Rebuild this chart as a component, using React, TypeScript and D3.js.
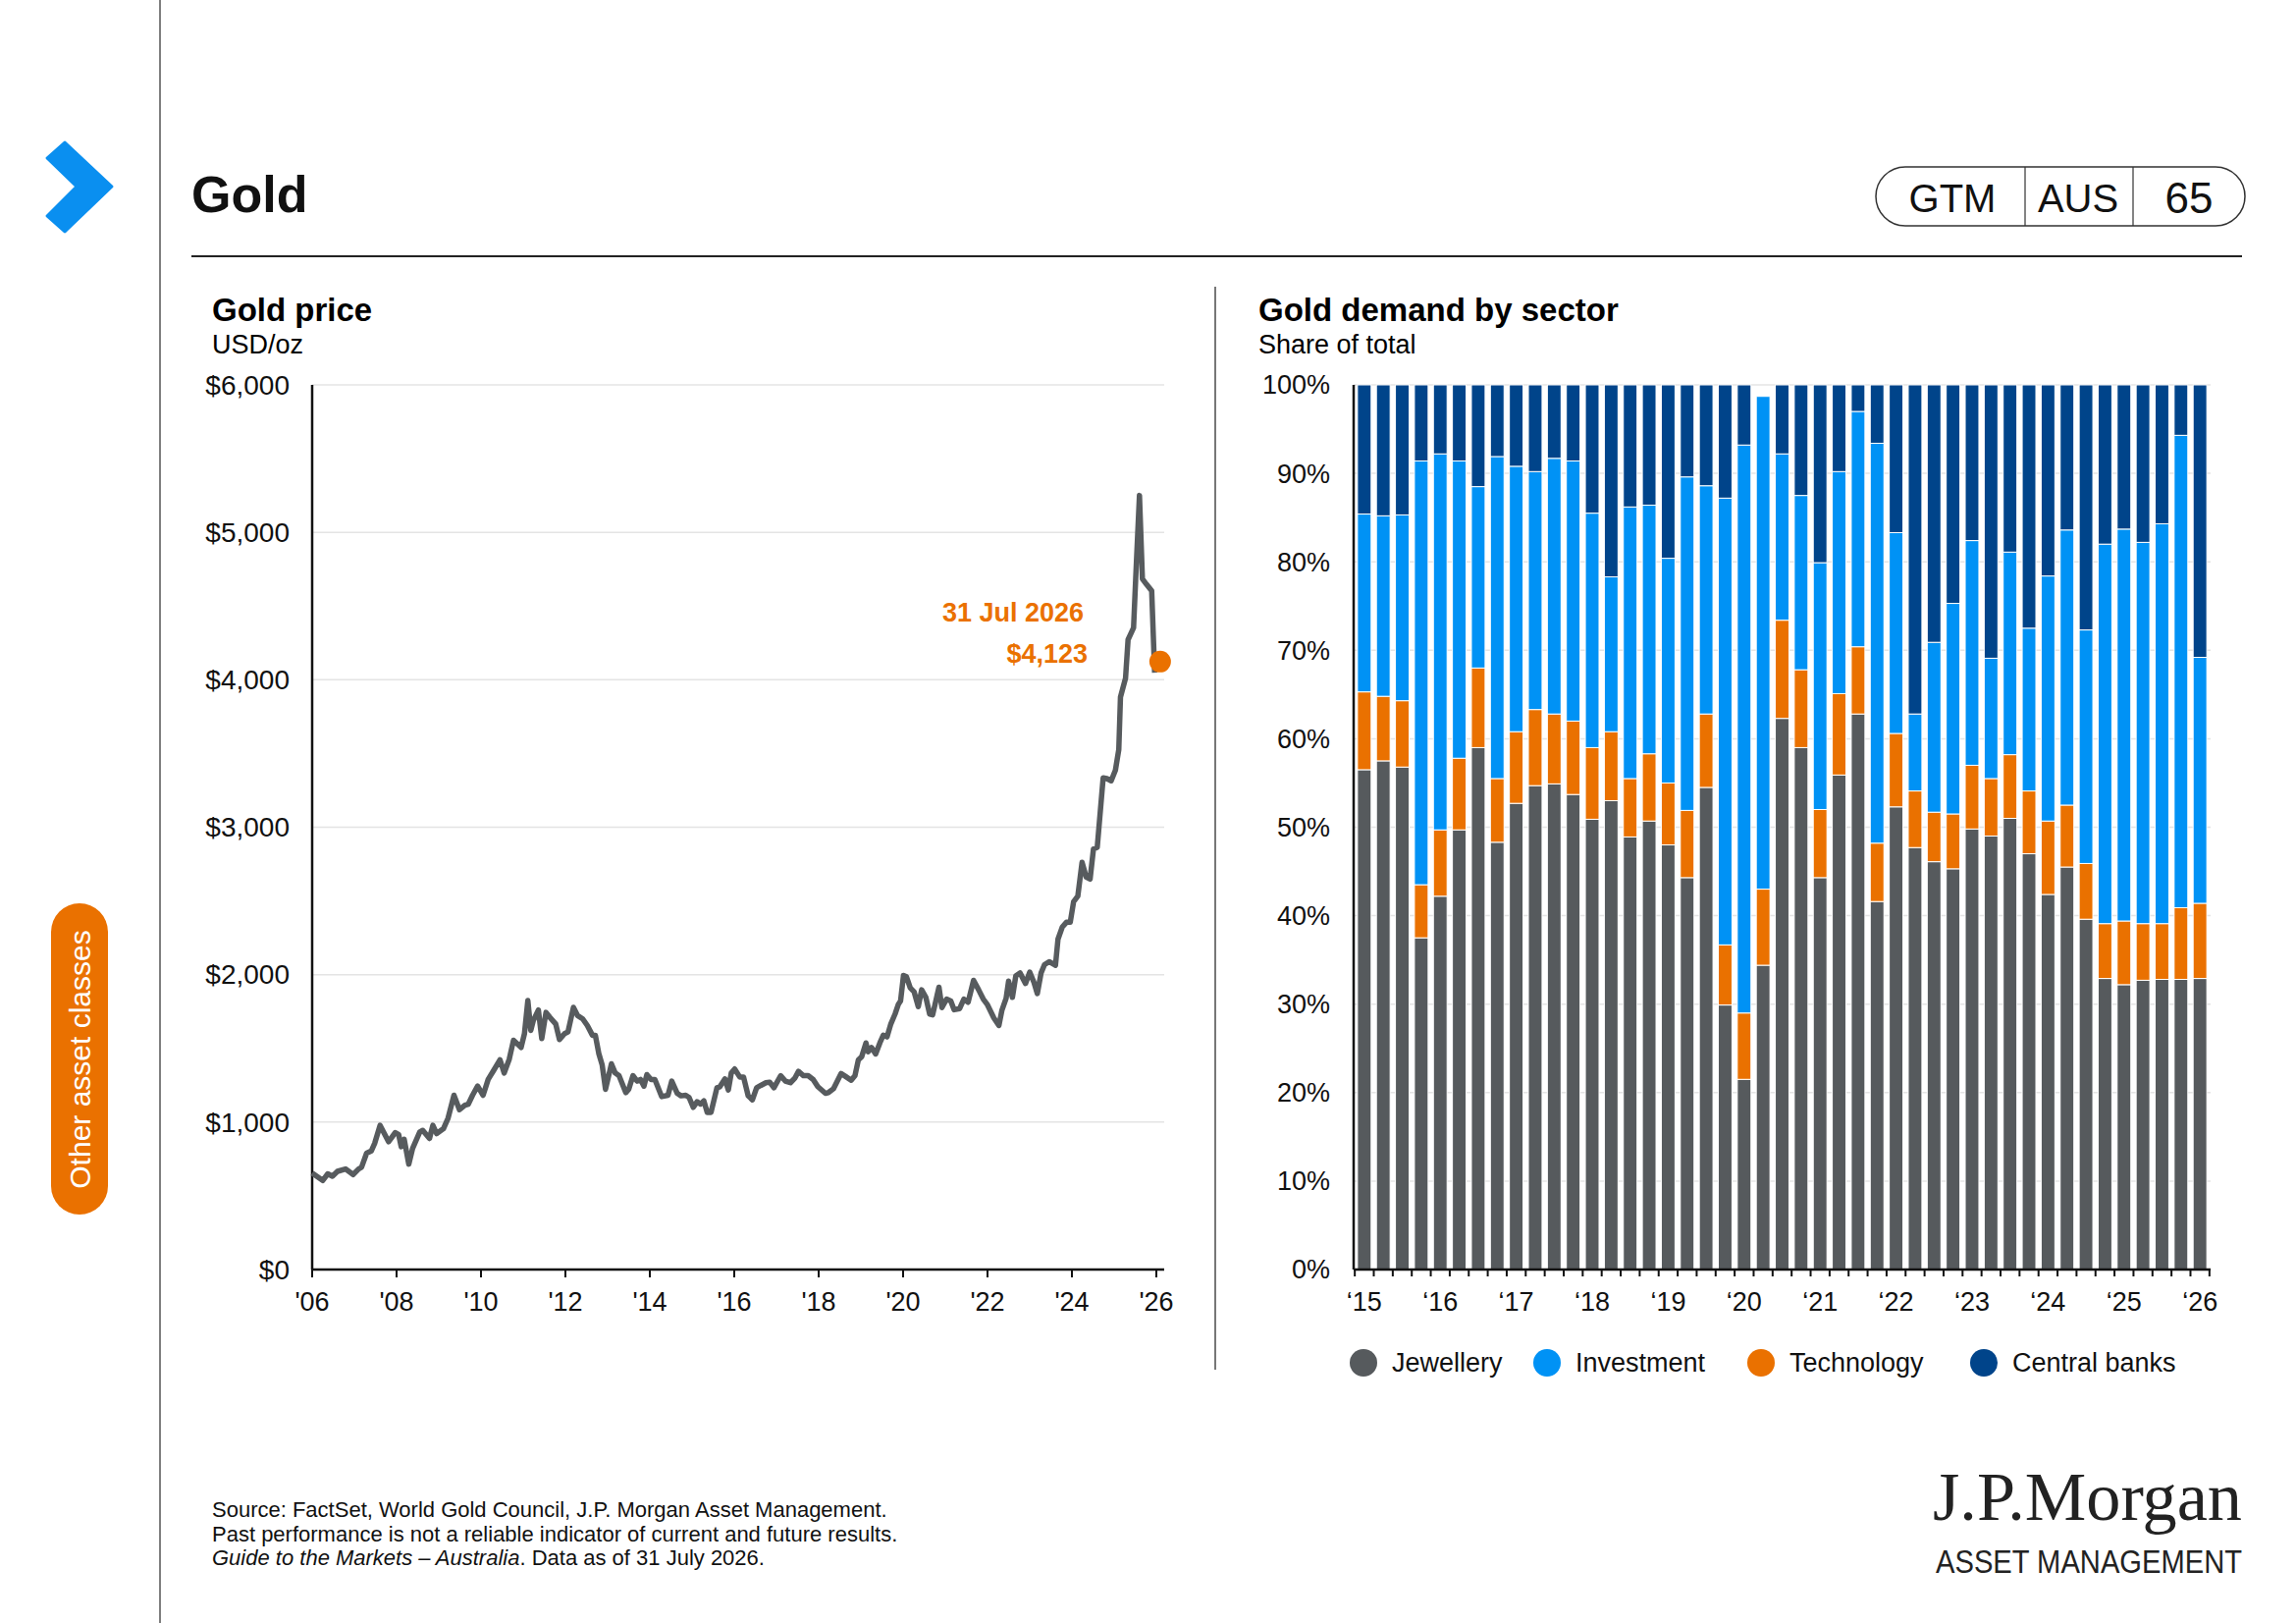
import * as d3 from 'd3';

const FONT = "'Liberation Sans', Arial, Helvetica, sans-serif";
const ORANGE = '#ea7100';
const LINE_GREY = '#575b5e';

// Gold price, USD/oz (time as fractional years)
const goldYears = [
    2006.0, 2006.25, 2006.37, 2006.48, 2006.6, 2006.79, 2006.97, 2007.1, 2007.17, 2007.29,
    2007.4, 2007.48, 2007.61, 2007.81, 2007.97, 2008.05, 2008.11, 2008.18, 2008.29, 2008.38,
    2008.55, 2008.62, 2008.78, 2008.86, 2008.95, 2009.11, 2009.22, 2009.36, 2009.49, 2009.62,
    2009.7, 2009.8, 2009.92, 2010.05, 2010.17, 2010.31, 2010.45, 2010.55, 2010.67, 2010.77,
    2010.95, 2011.03, 2011.11, 2011.18, 2011.24, 2011.36, 2011.44, 2011.54, 2011.63, 2011.77,
    2011.86, 2011.98, 2012.06, 2012.19, 2012.29, 2012.41, 2012.52, 2012.64, 2012.71, 2012.79,
    2012.87, 2012.95, 2013.09, 2013.18, 2013.27, 2013.43, 2013.5, 2013.6, 2013.7, 2013.78,
    2013.86, 2013.93, 2014.03, 2014.12, 2014.28, 2014.43, 2014.52, 2014.65, 2014.74, 2014.85,
    2014.93, 2015.03, 2015.12, 2015.2, 2015.28, 2015.36, 2015.45, 2015.59, 2015.66, 2015.78,
    2015.86, 2015.93, 2016.01, 2016.13, 2016.22, 2016.33, 2016.43, 2016.53, 2016.63, 2016.75,
    2016.84, 2016.94, 2017.1, 2017.21, 2017.33, 2017.44, 2017.52, 2017.64, 2017.75, 2017.87,
    2017.98, 2018.16, 2018.23, 2018.35, 2018.53, 2018.63, 2018.77, 2018.86, 2018.94, 2019.02,
    2019.12, 2019.17, 2019.25, 2019.35, 2019.45, 2019.53, 2019.62, 2019.71, 2019.81, 2019.89,
    2019.94, 2020.01, 2020.08, 2020.17, 2020.26, 2020.36, 2020.44, 2020.54, 2020.63, 2020.7,
    2020.85, 2020.92, 2021.03, 2021.13, 2021.21, 2021.34, 2021.44, 2021.54, 2021.67, 2021.79,
    2021.9, 2022.0, 2022.15, 2022.27, 2022.34, 2022.44, 2022.5, 2022.59, 2022.67, 2022.77,
    2022.9, 2023.0, 2023.1, 2023.18, 2023.27, 2023.35, 2023.46, 2023.61, 2023.67, 2023.77,
    2023.87, 2023.96, 2024.04, 2024.14, 2024.24, 2024.34, 2024.43, 2024.51, 2024.6, 2024.74,
    2024.83, 2024.93, 2025.03, 2025.11, 2025.15, 2025.27, 2025.33, 2025.46, 2025.52, 2025.6,
    2025.67, 2025.77, 2025.89, 2025.96,
];
const goldPrices = [
    655, 604, 649, 633, 666, 682, 644, 682, 693, 789,
    804, 855, 978, 867, 929, 915, 833, 884, 715, 822,
    933, 944, 889, 978, 922, 955, 1027, 1182, 1084, 1115,
    1122, 1182, 1244, 1182, 1289, 1355, 1422, 1333, 1427, 1555,
    1506, 1600, 1825, 1622, 1689, 1760, 1566, 1744, 1711, 1666,
    1560, 1600, 1611, 1778, 1722, 1700, 1655, 1589, 1589, 1466,
    1389, 1222, 1395, 1333, 1315, 1200, 1222, 1315, 1278, 1289,
    1244, 1322, 1289, 1289, 1173, 1182, 1278, 1195, 1178, 1182,
    1167, 1100, 1138, 1122, 1144, 1066, 1066, 1233, 1240, 1293,
    1218, 1333, 1360, 1306, 1306, 1178, 1151, 1233, 1249, 1267,
    1271, 1233, 1315, 1278, 1267, 1300, 1344, 1315, 1315, 1289,
    1240, 1195, 1200, 1226, 1329, 1311, 1284, 1315, 1422, 1444,
    1537, 1477, 1506, 1462, 1537, 1589, 1578, 1666, 1733, 1800,
    1821, 1995, 1986, 1910, 1884, 1783, 1897, 1846, 1732, 1727,
    1915, 1777, 1834, 1821, 1762, 1770, 1834, 1813, 1961, 1897,
    1834, 1795, 1706, 1655, 1757, 1839, 1956, 1846, 1991, 2012,
    1940, 2017, 1948, 1872, 2012, 2068, 2088, 2063, 2241, 2322,
    2355, 2355, 2495, 2533, 2762, 2661, 2648, 2852, 2864, 3335,
    3330, 3315, 3386, 3526, 3882, 4010, 4272, 4353, 4748, 5250,
    4684, 4646, 4603, 4048,
];
const latestYear = 2026.09;
const latestPrice = 4123;
const latestDate = '31 Jul 2026';

const priceTicks = [0, 1000, 2000, 3000, 4000, 5000, 6000];
const yearTicks = [2006, 2008, 2010, 2012, 2014, 2016, 2018, 2020, 2022, 2024, 2026];

// Gold demand by sector, share of total (%)
const quarters = [
    '1Q15', '2Q15', '3Q15', '4Q15', '1Q16', '2Q16', '3Q16', '4Q16', '1Q17', '2Q17', '3Q17', '4Q17',
    '1Q18', '2Q18', '3Q18', '4Q18', '1Q19', '2Q19', '3Q19', '4Q19', '1Q20', '2Q20', '3Q20', '4Q20',
    '1Q21', '2Q21', '3Q21', '4Q21', '1Q22', '2Q22', '3Q22', '4Q22', '1Q23', '2Q23', '3Q23', '4Q23',
    '1Q24', '2Q24', '3Q24', '4Q24', '1Q25', '2Q25', '3Q25', '4Q25', '1Q26',
];
const jewellery = [
    56.5, 57.5, 56.8, 37.5, 42.2, 49.7, 59.0, 48.3, 52.7, 54.7, 54.9, 53.7,
    50.9, 53.0, 48.9, 50.7, 48.0, 44.3, 54.5, 29.9, 21.5, 34.4, 62.3, 59.0,
    44.3, 55.9, 62.8, 41.6, 52.3, 47.7, 46.1, 45.3, 49.8, 49.0, 51.0, 47.0,
    42.4, 45.5, 39.6, 32.9, 32.2, 32.7, 32.8, 32.8, 32.9,
];
const technology = [
    8.8, 7.3, 7.5, 6.0, 7.5, 8.1, 9.0, 7.2, 8.1, 8.6, 7.9, 8.3,
    8.1, 7.8, 6.6, 7.6, 7.0, 7.6, 8.3, 6.8, 7.5, 8.6, 11.1, 8.8,
    7.7, 9.2, 7.6, 6.6, 8.3, 6.4, 5.6, 6.2, 7.2, 6.5, 7.2, 7.1,
    8.3, 7.0, 6.3, 6.2, 7.2, 6.4, 6.3, 8.1, 8.5,
];
const investment = [
    20.1, 20.4, 21.0, 47.9, 42.5, 33.6, 20.5, 36.4, 30.0, 26.9, 28.9, 29.4,
    26.5, 17.5, 30.7, 28.1, 25.4, 37.7, 25.8, 50.5, 64.2, 55.7, 18.8, 19.7,
    27.9, 25.1, 26.6, 45.2, 22.7, 8.7, 19.2, 23.8, 25.4, 13.6, 22.9, 18.4,
    27.7, 31.1, 26.4, 42.9, 44.3, 43.1, 45.2, 53.4, 27.8,
];
const centralBanks = [
    14.6, 14.8, 14.7, 8.6, 7.8, 8.6, 11.5, 8.1, 9.2, 9.8, 8.3, 8.6,
    14.5, 21.7, 13.8, 13.6, 19.6, 10.4, 11.4, 12.8, 6.8, 0.0, 7.8, 12.5,
    20.1, 9.8, 3.0, 6.6, 16.7, 37.2, 29.1, 24.7, 17.6, 30.9, 18.9, 27.5,
    21.6, 16.4, 27.7, 18.0, 16.3, 17.8, 15.7, 5.7, 30.8,
];
const barYearLabels = ['‘15', '‘16', '‘17', '‘18', '‘19', '‘20', '‘21', '‘22', '‘23', '‘24', '‘25', '‘26'];
const shareTicks = [0, 10, 20, 30, 40, 50, 60, 70, 80, 90, 100];

const sectors = [
    { key: 'Jewellery', values: jewellery, color: '#565a5d' },
    { key: 'Technology', values: technology, color: ORANGE },
    { key: 'Investment', values: investment, color: '#0092f5' },
    { key: 'Central banks', values: centralBanks, color: '#00448a' },
];
const legendOrder = ['Jewellery', 'Investment', 'Technology', 'Central banks'];

const GoldPrice = () => {
    const x = d3.scaleLinear().domain([2006, 2026]).range([318, 1178]);
    const y = d3.scaleLinear().domain([0, 6000]).range([1293, 392]);
    const xEnd = 1186;
    const points = goldYears.map((yr, i) => [yr, goldPrices[i]]);
    const line = d3.line<number[]>()
        .x((d) => x(d[0]))
        .y((d) => y(d[1]))
        .curve(d3.curveLinear);

    return (
        <g>
            <text x={216} y={327} fontSize={33} fontWeight="bold">Gold price</text>
            <text x={216} y={360} fontSize={27}>USD/oz</text>

            {priceTicks.filter((t) => t > 0).map((t) => (
                <line key={t} x1={x(2006)} x2={xEnd} y1={y(t)} y2={y(t)} stroke="#e4e4e4" strokeWidth={1.5} />
            ))}
            {priceTicks.map((t) => (
                <text key={t} x={295} y={y(t)} dy="0.35em" fontSize={28} textAnchor="end" fill="#111">
                    {d3.format('$,')(t)}
                </text>
            ))}

            <line x1={x(2006)} x2={x(2006)} y1={392} y2={1293} stroke="#111" strokeWidth={2.5} />
            <line x1={x(2006)} x2={xEnd} y1={1293} y2={1293} stroke="#111" strokeWidth={2.5} />
            {yearTicks.map((t) => (
                <g key={t}>
                    <line x1={x(t)} x2={x(t)} y1={1293} y2={1301} stroke="#111" strokeWidth={2} />
                    <text x={x(t)} y={1335} fontSize={27} textAnchor="middle" fill="#111">
                        {`'${String(t).slice(2)}`}
                    </text>
                </g>
            ))}

            <path d={line(points) ?? ''} fill="none" stroke={LINE_GREY} strokeWidth={5.5} strokeLinejoin="round" />
            <circle cx={x(latestYear)} cy={y(latestPrice)} r={11} fill={ORANGE} />
            <text x={1104} y={633} fontSize={27} fontWeight="bold" fill={ORANGE} textAnchor="end">{latestDate}</text>
            <text x={1108} y={675} fontSize={27} fontWeight="bold" fill={ORANGE} textAnchor="end">
                {d3.format('$,')(latestPrice)}
            </text>
        </g>
    );
};

const GoldDemand = () => {
    const x = d3.scaleBand().domain(quarters).range([1379, 2252]).paddingInner(0.28).paddingOuter(0.2);
    const y = d3.scaleLinear().domain([0, 100]).range([1293, 392]);
    const rows = quarters.map((q, i) => {
        const row: Record<string, number | string> = { q };
        sectors.forEach((s) => { row[s.key] = s.values[i]; });
        return row;
    });
    const stack = d3.stack<any>().keys(sectors.map((s) => s.key));
    const series = stack(rows);
    const step = x.step();
    const gap = step - x.bandwidth();
    const firstEdge = (x(quarters[0]) ?? 0) - gap / 2;

    return (
        <g>
            <text x={1282} y={327} fontSize={33} fontWeight="bold">Gold demand by sector</text>
            <text x={1282} y={360} fontSize={27}>Share of total</text>

            {shareTicks.filter((t) => t > 0).map((t) => (
                <line key={t} x1={1379} x2={2252} y1={y(t)} y2={y(t)} stroke="#e4e4e4" strokeWidth={1.5} />
            ))}
            {shareTicks.map((t) => (
                <text key={t} x={1355} y={y(t)} dy="0.35em" fontSize={27} textAnchor="end" fill="#111">{`${t}%`}</text>
            ))}

            {series.map((s, si) => (
                <g key={s.key} fill={sectors[si].color}>
                    {s.map((d, i) => (d[1] - d[0] > 0 ? (
                        <rect
                            key={quarters[i]}
                            x={x(quarters[i])}
                            width={x.bandwidth()}
                            y={y(d[1])}
                            height={y(d[0]) - y(d[1])}
                            stroke="#fff"
                            strokeWidth={1}
                        />
                    ) : null))}
                </g>
            ))}

            <line x1={1379} x2={1379} y1={392} y2={1293} stroke="#111" strokeWidth={2.5} />
            <line x1={1379} x2={2252} y1={1293} y2={1293} stroke="#111" strokeWidth={2.5} />
            {d3.range(quarters.length + 1).map((i) => (
                <line key={i} x1={firstEdge + i * step} x2={firstEdge + i * step} y1={1293} y2={1300} stroke="#111" strokeWidth={2} />
            ))}
            {barYearLabels.map((label, i) => {
                const q = quarters[i * 4];
                return (
                    <text key={label} x={(x(q) ?? 0) + x.bandwidth() / 2} y={1335} fontSize={27} textAnchor="middle" fill="#111">
                        {label}
                    </text>
                );
            })}

            {legendOrder.map((key, i) => {
                const s = sectors.find((d) => d.key === key)!;
                const cx = [1389, 1576, 1794, 2021][i];
                return (
                    <g key={key}>
                        <circle cx={cx} cy={1388} r={14} fill={s.color} />
                        <text x={cx + 29} y={1388} dy="0.35em" fontSize={27} fill="#111">{key}</text>
                    </g>
                );
            })}
        </g>
    );
};

export default function App() {
    return (
        <div style={{ width: 2339, height: 1653, overflow: 'hidden' }}>
            <style>{'body{margin:0;background:#fff}'}</style>
            <svg width={2339} height={1653} viewBox="0 0 2339 1653" style={{ display: 'block', fontFamily: FONT }}>
                <rect width={2339} height={1653} fill="#fff" />

                {/* left rail */}
                <line x1={163} x2={163} y1={0} y2={1653} stroke="#555" strokeWidth={1.5} />
                <polygon
                    points="48,161 66,145 114,190 66,236 48,220 78,190"
                    fill="#0a8ff0"
                    stroke="#0a8ff0"
                    strokeWidth={3}
                    strokeLinejoin="round"
                />
                <rect x={52} y={920} width={58} height={317} rx={29} fill={ORANGE} />
                <text
                    transform="translate(81,1079) rotate(-90)"
                    textAnchor="middle"
                    dy="0.35em"
                    fontSize={30}
                    fill="#fff"
                >
                    Other asset classes
                </text>

                {/* header */}
                <text x={195} y={216} fontSize={52} fontWeight="bold" fill="#111">Gold</text>
                <rect x={1911} y={170} width={376} height={60} rx={30} fill="none" stroke="#333" strokeWidth={1.5} />
                <line x1={2063} x2={2063} y1={170} y2={230} stroke="#333" strokeWidth={1.2} />
                <line x1={2173} x2={2173} y1={170} y2={230} stroke="#333" strokeWidth={1.2} />
                <text x={1989} y={216} fontSize={40} textAnchor="middle" fill="#111">GTM</text>
                <text x={2117} y={216} fontSize={40} textAnchor="middle" fill="#111">AUS</text>
                <text x={2230} y={217} fontSize={44} textAnchor="middle" fill="#111">65</text>
                <line x1={195} x2={2284} y1={261} y2={261} stroke="#222" strokeWidth={2} />

                <GoldPrice />
                <line x1={1238} x2={1238} y1={292} y2={1395} stroke="#777" strokeWidth={2} />
                <GoldDemand />

                {/* footer */}
                <text x={216} y={1545} fontSize={22} fill="#111">
                    Source: FactSet, World Gold Council, J.P. Morgan Asset Management.
                </text>
                <text x={216} y={1570} fontSize={22} fill="#111">
                    Past performance is not a reliable indicator of current and future results.
                </text>
                <text x={216} y={1594} fontSize={22} fill="#111">
                    <tspan fontStyle="italic">Guide to the Markets – Australia</tspan>
                    . Data as of 31 July 2026.
                </text>

                <text
                    x={2284}
                    y={1548}
                    fontSize={70}
                    textAnchor="end"
                    fill="#222"
                    fontFamily="'Liberation Serif', 'DejaVu Serif', serif"
                    textLength={315}
                    lengthAdjust="spacingAndGlyphs"
                >
                    J.P.Morgan
                </text>
                <text
                    x={2284}
                    y={1602}
                    fontSize={33}
                    textAnchor="end"
                    fill="#222"
                    textLength={312}
                    lengthAdjust="spacingAndGlyphs"
                >
                    ASSET MANAGEMENT
                </text>
            </svg>
        </div>
    );
}
